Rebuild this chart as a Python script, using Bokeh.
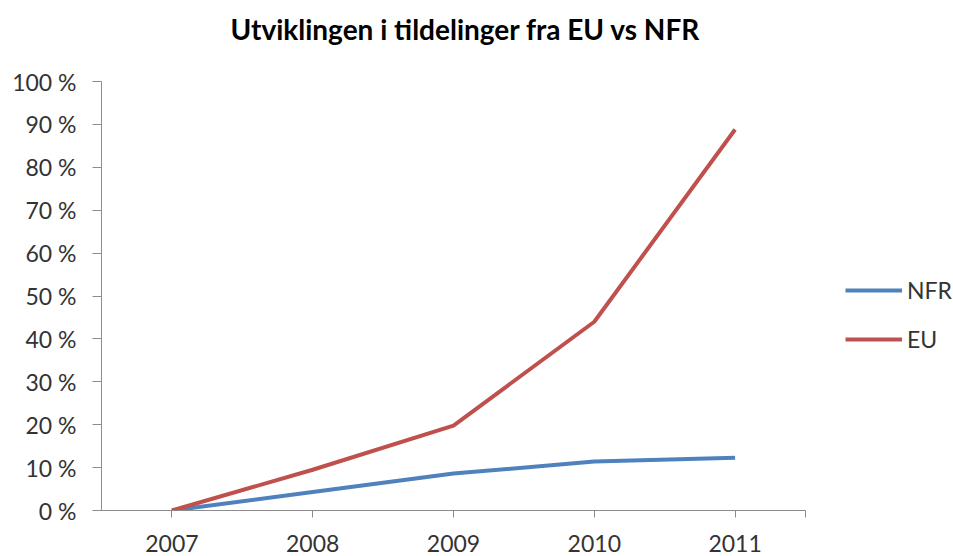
from bokeh.plotting import figure
from bokeh.models import Range1d, FixedTicker, PrintfTickFormatter, Legend, LegendItem, Label
from bokeh.embed import file_html
from bokeh.resources import INLINE

# ---- data ----
years = [2007, 2008, 2009, 2010, 2011]
nfr = [0.0, 4.3, 8.6, 11.4, 12.3]
eu = [0.0, 9.5, 19.8, 44.0, 88.8]
series_names = ["NFR", "EU"]
title_text = "Utviklingen i tildelinger fra EU vs NFR"
y_ticks = list(range(0, 101, 10))

FONT = "Lato"
AXIS_COLOR = "#8c8c8c"
TEXT_COLOR = "#333333"

W, H = 953, 556
LEFT, BOTTOM = 101, 46
# axes drawn over 2006.5..2011.5 (704 px) and 0..100 % (429 px);
# the frame reaches further right and up to hold the legend and title
PX_PER_YEAR = 704 / 5.0
PX_PER_PCT = 429 / 100.0
FRAME_W = W - LEFT
FRAME_H = H - BOTTOM
x_start = 2006.5
x_end = x_start + FRAME_W / PX_PER_YEAR
y_end = FRAME_H / PX_PER_PCT

p = figure(width=W, height=H, output_backend="svg", toolbar_location=None, title=None,
           x_range=Range1d(x_start, x_end), y_range=Range1d(0, y_end),
           min_border_left=LEFT, min_border_right=0, min_border_top=0, min_border_bottom=BOTTOM)
p.outline_line_color = None
p.xgrid.grid_line_color = None
p.ygrid.grid_line_color = None

r_nfr = p.line(years, nfr, line_color="#4F81BD", line_width=4)
r_eu = p.line(years, eu, line_color="#C0504D", line_width=4)

# title (screen position relative to the frame's bottom-left)
p.add_layout(Label(x=364, y=FRAME_H - 28, x_units="screen", y_units="screen",
                   text=title_text, text_align="center", text_baseline="middle",
                   text_font=FONT, text_font_size="28px", text_font_style="bold",
                   text_color="#000000"))

# y axis
ya = p.yaxis[0]
ya.bounds = (0, 100)
ya.ticker = FixedTicker(ticks=y_ticks)
ya.formatter = PrintfTickFormatter(format="%d %%")
ya.axis_line_color = AXIS_COLOR
ya.major_tick_line_color = AXIS_COLOR
ya.major_tick_out = 9
ya.major_tick_in = 0
ya.minor_tick_line_color = None
ya.major_label_text_font = FONT
ya.major_label_text_font_size = "23px"
ya.major_label_text_color = TEXT_COLOR
ya.major_label_standoff = 16

# x axis
xa = p.xaxis[0]
xa.bounds = (2006.5, 2011.5)
xa.ticker = FixedTicker(ticks=years + [2011.5])
xa.major_label_overrides = {2011.5: ""}
xa.axis_line_color = AXIS_COLOR
xa.major_tick_line_color = AXIS_COLOR
xa.major_tick_out = 7
xa.major_tick_in = 0
xa.minor_tick_line_color = None
xa.major_label_text_font = FONT
xa.major_label_text_font_size = "23px"
xa.major_label_text_color = TEXT_COLOR
xa.major_label_standoff = 17

legend = Legend(items=[LegendItem(label=series_names[0], renderers=[r_nfr]),
                       LegendItem(label=series_names[1], renderers=[r_eu])],
                location=(744, 157))
legend.padding = 0
legend.margin = 0
legend.spacing = 21
legend.glyph_width = 57
legend.glyph_height = 20
legend.label_height = 20
legend.label_standoff = 5
legend.label_text_font = FONT
legend.label_text_font_size = "23px"
legend.label_text_color = TEXT_COLOR
legend.border_line_alpha = 0
legend.background_fill_alpha = 0
p.add_layout(legend, "center")

open("out.html", "w").write(file_html(p, INLINE))
